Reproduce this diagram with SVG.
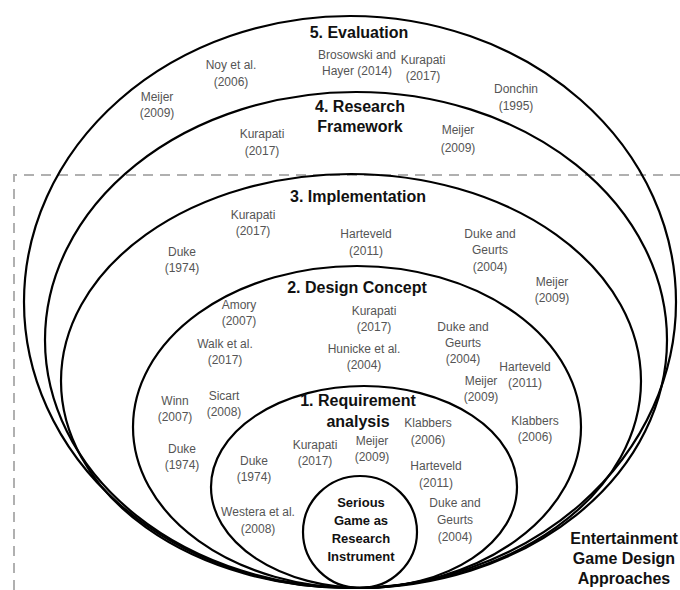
<svg xmlns="http://www.w3.org/2000/svg" width="680" height="590" viewBox="0 0 680 590">
<style>
.ring{fill:none;stroke:#000;stroke-width:2.2}
.c{font-family:"Liberation Sans",Arial,sans-serif;font-size:12px;fill:#555;text-anchor:middle}
.t{font-family:"Liberation Sans",Arial,sans-serif;font-size:16px;font-weight:bold;fill:#111;text-anchor:middle}
.s{font-family:"Liberation Sans",Arial,sans-serif;font-size:13px;font-weight:bold;fill:#111;text-anchor:middle}
.dash{fill:none;stroke:#b0b0b0;stroke-width:2;stroke-dasharray:10 7}
</style>
<rect width="680" height="590" fill="#fff"/>
<g id="connectors">
<path class="dash" d="M14,590 V175 H680"/>
</g>
<g id="evaluation">
<ellipse class="ring" cx="350" cy="302" rx="326" ry="286"/>
<text class="t" x="359" y="38">5. Evaluation</text>
<text class="c" x="231" y="69">Noy et al.</text><text class="c" x="231" y="86">(2006)</text>
<text class="c" x="357" y="59">Brosowski and</text><text class="c" x="357" y="75">Hayer (2014)</text>
<text class="c" x="423" y="64">Kurapati</text><text class="c" x="423" y="80">(2017)</text>
<text class="c" x="157" y="101">Meijer</text><text class="c" x="157" y="117">(2009)</text>
<text class="c" x="516" y="93">Donchin</text><text class="c" x="516" y="110">(1995)</text>
</g>
<g id="research-framework">
<ellipse class="ring" cx="356" cy="340" rx="311" ry="248"/>
<text class="t" x="360" y="112">4. Research</text>
<text class="t" x="360" y="132">Framework</text>
<text class="c" x="262" y="138">Kurapati</text><text class="c" x="262" y="155">(2017)</text>
<text class="c" x="458" y="134">Meijer</text><text class="c" x="458" y="152">(2009)</text>
</g>
<g id="implementation">
<ellipse class="ring" cx="351" cy="381" rx="290" ry="207"/>
<text class="t" x="358" y="202">3. Implementation</text>
<text class="c" x="253" y="219">Kurapati</text><text class="c" x="253" y="235">(2017)</text>
<text class="c" x="182" y="256">Duke</text><text class="c" x="182" y="272">(1974)</text>
<text class="c" x="366" y="238">Harteveld</text><text class="c" x="366" y="255">(2011)</text>
<text class="c" x="490" y="238">Duke and</text><text class="c" x="490" y="254">Geurts</text><text class="c" x="490" y="271">(2004)</text>
<text class="c" x="552" y="286">Meijer</text><text class="c" x="552" y="302">(2009)</text>
</g>
<g id="design-concept">
<ellipse class="ring" cx="357" cy="427" rx="224" ry="161"/>
<text class="t" x="357" y="293">2. Design Concept</text>
<text class="c" x="239" y="309">Amory</text><text class="c" x="239" y="325">(2007)</text>
<text class="c" x="374" y="315">Kurapati</text><text class="c" x="374" y="331">(2017)</text>
<text class="c" x="463" y="331">Duke and</text><text class="c" x="463" y="347">Geurts</text><text class="c" x="463" y="363">(2004)</text>
<text class="c" x="225" y="348">Walk et al.</text><text class="c" x="225" y="364">(2017)</text>
<text class="c" x="364" y="353">Hunicke et al.</text><text class="c" x="364" y="369">(2004)</text>
<text class="c" x="525" y="371">Harteveld</text><text class="c" x="525" y="387">(2011)</text>
<text class="c" x="481" y="385">Meijer</text><text class="c" x="481" y="401">(2009)</text>
<text class="c" x="175" y="405">Winn</text><text class="c" x="175" y="421">(2007)</text>
<text class="c" x="224" y="400">Sicart</text><text class="c" x="224" y="416">(2008)</text>
<text class="c" x="535" y="425">Klabbers</text><text class="c" x="535" y="441">(2006)</text>
<text class="c" x="182" y="453">Duke</text><text class="c" x="182" y="469">(1974)</text>
</g>
<g id="requirement-analysis">
<ellipse class="ring" cx="364" cy="487" rx="153" ry="101"/>
<text class="t" x="358" y="406">1. Requirement</text>
<text class="t" x="358" y="427">analysis</text>
<text class="c" x="428" y="427">Klabbers</text><text class="c" x="428" y="444">(2006)</text>
<text class="c" x="315" y="449">Kurapati</text><text class="c" x="315" y="465">(2017)</text>
<text class="c" x="372" y="445">Meijer</text><text class="c" x="372" y="461">(2009)</text>
<text class="c" x="254" y="465">Duke</text><text class="c" x="254" y="481">(1974)</text>
<text class="c" x="436" y="470">Harteveld</text><text class="c" x="436" y="487">(2011)</text>
<text class="c" x="258" y="516">Westera et al.</text><text class="c" x="258" y="533">(2008)</text>
<text class="c" x="455" y="507">Duke and</text><text class="c" x="455" y="524">Geurts</text><text class="c" x="455" y="541">(2004)</text>
</g>
<g id="serious-game">
<ellipse class="ring" cx="360" cy="532" rx="57" ry="56"/>
<text class="s" x="361" y="507">Serious</text>
<text class="s" x="361" y="525">Game as</text>
<text class="s" x="361" y="543">Research</text>
<text class="s" x="361" y="561">Instrument</text>
</g>
<g id="entertainment">
<text class="t" x="624" y="544">Entertainment</text>
<text class="t" x="624" y="564">Game Design</text>
<text class="t" x="624" y="584">Approaches</text>
</g>
</svg>
